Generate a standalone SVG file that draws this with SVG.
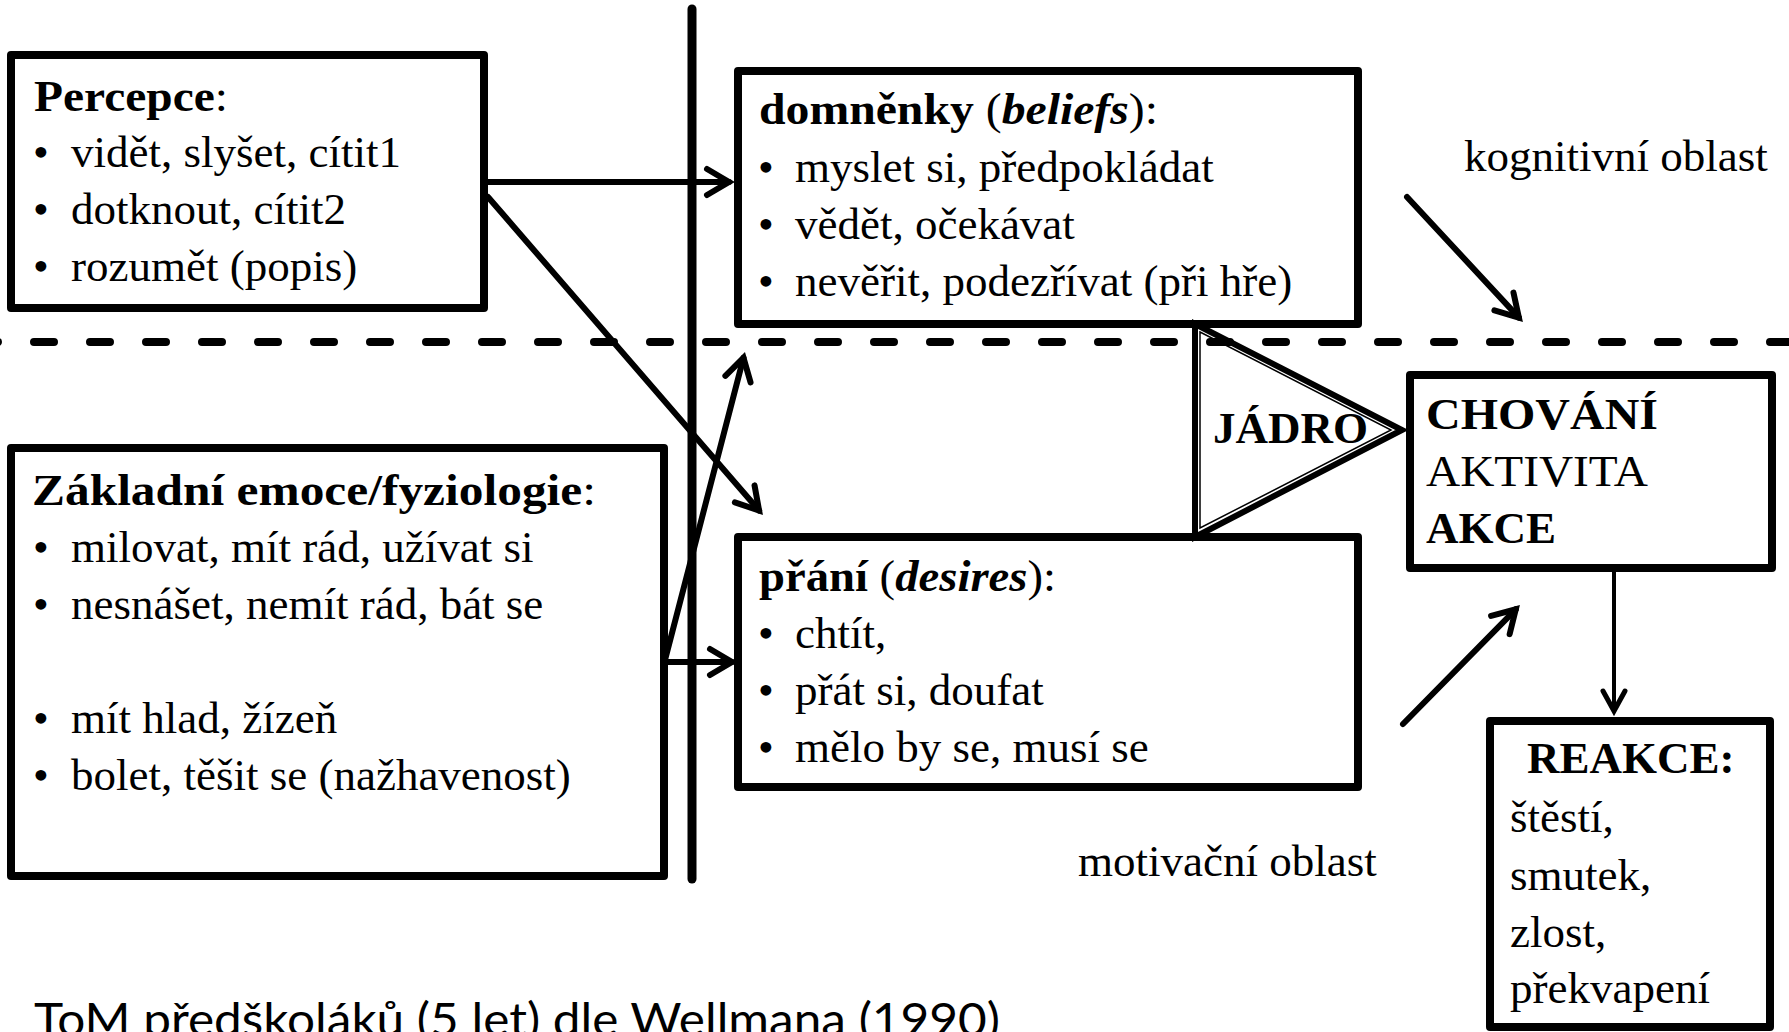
<svg xmlns="http://www.w3.org/2000/svg" width="1789" height="1032" viewBox="0 0 1789 1032">
<style>
.t{font-family:"Liberation Serif","Times New Roman",serif;font-size:45px;fill:#000}
.b{font-weight:bold}
.bi{font-weight:bold;font-style:italic}
.box{fill:#fff;stroke:#000;stroke-width:8;stroke-linejoin:round}
.ln{stroke:#000;stroke-width:6;fill:none;stroke-linecap:round}
.cap{font-family:Lato,"Open Sans",sans-serif;font-size:46px;fill:#000}
</style>
<defs>
<marker id="arr" markerUnits="userSpaceOnUse" markerWidth="60" markerHeight="60" viewBox="-40 -30 60 60" refX="0" refY="0" orient="auto" overflow="visible">
<path d="M-22,-13 L0,0 L-22,13" fill="none" stroke="#000" stroke-width="6" stroke-linecap="round" stroke-linejoin="miter"/>
</marker>
<marker id="arr2" markerUnits="userSpaceOnUse" markerWidth="60" markerHeight="60" viewBox="-40 -30 60 60" refX="0" refY="0" orient="auto" overflow="visible">
<path d="M-20,-11 L0,0 L-20,11" fill="none" stroke="#000" stroke-width="5" stroke-linecap="round" stroke-linejoin="miter"/>
</marker>
</defs>
<rect width="1789" height="1032" fill="#fff"/>

<g id="separators">
<line x1="-22" y1="342" x2="1800" y2="342" stroke="#000" stroke-width="8" stroke-dasharray="20 36" stroke-linecap="round"/>
<line x1="692" y1="9" x2="692" y2="879" stroke="#000" stroke-width="9" stroke-linecap="round"/>
</g>

<g id="percepce">
<rect class="box" x="11" y="55" width="473" height="253"/>
<text class="t" x="34" y="111" textLength="194" lengthAdjust="spacingAndGlyphs"><tspan class="b">Percepce</tspan>:</text>
<text class="t" x="41" y="167" text-anchor="middle">•</text>
<text class="t" x="71" y="167">vidět, slyšet, cítit1</text>
<text class="t" x="41" y="224" text-anchor="middle">•</text>
<text class="t" x="71" y="224">dotknout, cítit2</text>
<text class="t" x="41" y="281" text-anchor="middle">•</text>
<text class="t" x="71" y="281">rozumět (popis)</text>
</g>

<g id="zakladni">
<rect class="box" x="11" y="448" width="653" height="428"/>
<text class="t" x="32" y="505" textLength="564" lengthAdjust="spacingAndGlyphs"><tspan class="b">Základní emoce/fyziologie</tspan>:</text>
<text class="t" x="41" y="562" text-anchor="middle">•</text>
<text class="t" x="71" y="562">milovat, mít rád, užívat si</text>
<text class="t" x="41" y="619" text-anchor="middle">•</text>
<text class="t" x="71" y="619">nesnášet, nemít rád, bát se</text>
<text class="t" x="41" y="733" text-anchor="middle">•</text>
<text class="t" x="71" y="733">mít hlad, žízeň</text>
<text class="t" x="41" y="790" text-anchor="middle">•</text>
<text class="t" x="71" y="790">bolet, těšit se (nažhavenost)</text>
</g>

<g id="domnenky">
<rect class="box" x="738" y="71" width="620" height="253"/>
<text class="t" x="759" y="124" textLength="399" lengthAdjust="spacingAndGlyphs"><tspan class="b">domněnky</tspan> (<tspan class="bi">beliefs</tspan>):</text>
<text class="t" x="766" y="182" text-anchor="middle">•</text>
<text class="t" x="795" y="182">myslet si, předpokládat</text>
<text class="t" x="766" y="239" text-anchor="middle">•</text>
<text class="t" x="795" y="239">vědět, očekávat</text>
<text class="t" x="766" y="296" text-anchor="middle">•</text>
<text class="t" x="795" y="296">nevěřit, podezřívat (při hře)</text>
</g>

<g id="prani">
<rect class="box" x="738" y="537" width="620" height="250"/>
<text class="t" x="759" y="591" textLength="297" lengthAdjust="spacingAndGlyphs"><tspan class="b">přání</tspan> (<tspan class="bi">desires</tspan>):</text>
<text class="t" x="766" y="648" text-anchor="middle">•</text>
<text class="t" x="795" y="648">chtít,</text>
<text class="t" x="766" y="705" text-anchor="middle">•</text>
<text class="t" x="795" y="705">přát si, doufat</text>
<text class="t" x="766" y="762" text-anchor="middle">•</text>
<text class="t" x="795" y="762">mělo by se, musí se</text>
</g>

<g id="jadro">
<polygon points="1195,324 1402,430 1195,537" fill="none" stroke="#000" stroke-width="6" stroke-linejoin="miter"/>
<polygon points="1200,332 1391,430 1200,528" fill="none" stroke="#000" stroke-width="1.5"/>
<text class="t b" x="1213" y="443">JÁDRO</text>
</g>

<g id="chovani">
<rect class="box" x="1410" y="375" width="362" height="193"/>
<text class="t b" x="1426" y="429" textLength="232" lengthAdjust="spacingAndGlyphs">CHOVÁNÍ</text>
<text class="t" x="1426" y="486" textLength="222" lengthAdjust="spacingAndGlyphs">AKTIVITA</text>
<text class="t b" x="1426" y="543">AKCE</text>
</g>

<g id="reakce">
<rect class="box" x="1490" y="721" width="280" height="306"/>
<text class="t b" x="1527" y="773">REAKCE:</text>
<text class="t" x="1510" y="832">štěstí,</text>
<text class="t" x="1510" y="890">smutek,</text>
<text class="t" x="1510" y="947">zlost,</text>
<text class="t" x="1510" y="1003">překvapení</text>
</g>

<g id="labels">
<text class="t" x="1464" y="171">kognitivní oblast</text>
<text class="t" x="1078" y="876">motivační oblast</text>
<text class="cap" x="34" y="1036" textLength="966" lengthAdjust="spacingAndGlyphs">ToM předškoláků (5 let) dle Wellmana (1990)</text>
</g>

<g id="connectors">
<line class="ln" x1="488" y1="182" x2="729" y2="182" marker-end="url(#arr)"/>
<line class="ln" x1="488" y1="197" x2="759.1" y2="510.5" marker-end="url(#arr)"/>
<line class="ln" x1="664" y1="662" x2="732" y2="662" marker-end="url(#arr)"/>
<line class="ln" x1="665" y1="660" x2="743.5" y2="357.8" marker-end="url(#arr)"/>
<line class="ln" x1="1407" y1="197" x2="1518.9" y2="317.6" marker-end="url(#arr)"/>
<line class="ln" x1="1403" y1="724" x2="1515.8" y2="609.3" marker-end="url(#arr)"/>
<line x1="1614" y1="568" x2="1614" y2="711" stroke="#000" stroke-width="4" marker-end="url(#arr2)"/>
</g>
</svg>
